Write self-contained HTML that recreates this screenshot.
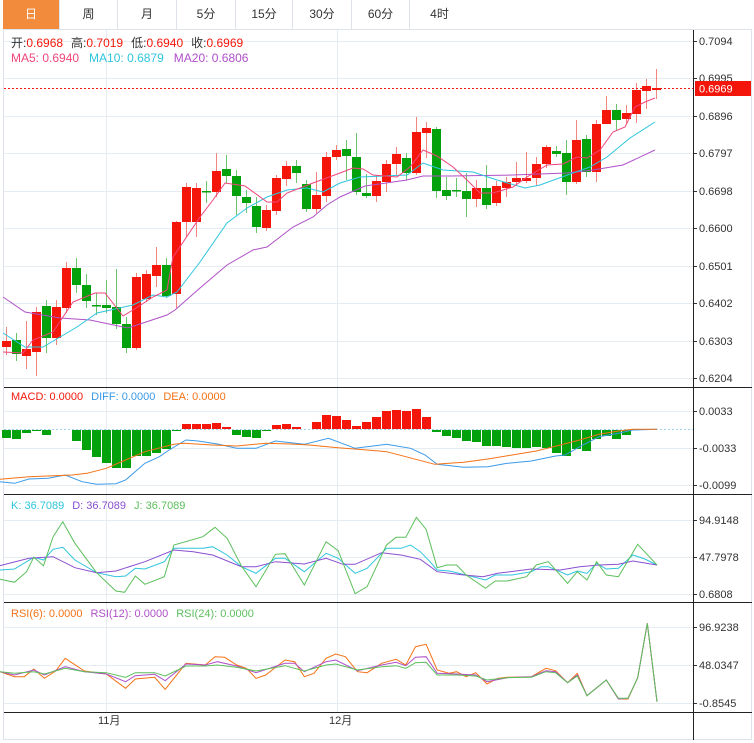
<!DOCTYPE html>
<html><head><meta charset="utf-8"><style>
body{margin:0;background:#fff;font-family:"Liberation Sans","Noto Sans CJK SC",sans-serif;}
#wrap{position:relative;width:754px;height:743px;overflow:hidden;}
.tabs{position:absolute;left:3px;top:0;height:29px;width:749px;border-bottom:1px solid #dde3e8;}
.tab{position:absolute;top:0;height:29px;line-height:29px;text-align:center;font-size:12px;color:#333;border-right:1px solid #dde3e8;box-sizing:border-box;}
.tab.on{background:#f28c3c;color:#fff;}
svg{position:absolute;left:0;top:0;}
</style></head><body><div id="wrap">
<div class="tabs">
<div class="tab on" style="left:0;width:57px">日</div>
<div class="tab" style="left:57px;width:58px">周</div>
<div class="tab" style="left:115px;width:59px">月</div>
<div class="tab" style="left:174px;width:59px">5分</div>
<div class="tab" style="left:233px;width:57px">15分</div>
<div class="tab" style="left:290px;width:59px">30分</div>
<div class="tab" style="left:349px;width:58px">60分</div>
<div class="tab" style="left:407px;width:59px;border-right:none">4时</div>
</div>
<svg id="s" width="754" height="743" xmlns="http://www.w3.org/2000/svg" font-family="Liberation Sans, Noto Sans CJK SC, sans-serif"></svg>
</div>
<script>
var NS="http://www.w3.org/2000/svg",S=document.getElementById('s'),h='';
function ln(x1,y1,x2,y2,c,w,extra){h+='<line x1="'+x1+'" y1="'+y1+'" x2="'+x2+'" y2="'+y2+'" stroke="'+c+'" stroke-width="'+(w||1)+'" '+(extra||'')+'/>';}
function tx(x,y,t,c,s,a){h+='<text x="'+x+'" y="'+y+'" fill="'+c+'" font-size="'+(s||11)+'" '+(a||'')+'>'+t+'</text>';}
function pl(pts,c,sx,sy,ox,oy,w){var p=[];for(var i=0;i<pts.length;i+=2)p.push((ox+pts[i]/sx).toFixed(1)+','+(oy+pts[i+1]/sy).toFixed(1));h+='<polyline points="'+p.join(' ')+'" fill="none" stroke="'+c+'" stroke-width="'+(w||1)+'"/>';}
// borders
ln(3.5,29,3.5,740,'#dde3e8');ln(751.5,29,751.5,740,'#dde3e8');ln(3,739.5,752,739.5,'#dde3e8');
// grids main
var gy=[41,78,116,153,191,228,266,303,341,378],gl=['0.7094','0.6995','0.6896','0.6797','0.6698','0.6600','0.6501','0.6402','0.6303','0.6204'];
for(var i=0;i<gy.length;i++){ln(4,gy[i]+.5,693,gy[i]+.5,'#e6edf2');ln(693,gy[i]+.5,697,gy[i]+.5,'#333');tx(699,gy[i]+4,gl[i],'#333',11);}
// vertical grid
[106,337].forEach(function(x){ln(x+.5,30,x+.5,712,'#e6edf2');});
// MACD grid
[[411,'0.0033'],[448,'-0.0033'],[485,'-0.0099']].forEach(function(a){ln(4,a[0]+.5,693,a[0]+.5,'#e6edf2');ln(693,a[0]+.5,697,a[0]+.5,'#333');tx(699,a[0]+4,a[1],'#333',11);});
[[520,'94.9148'],[557,'47.7978'],[594,'0.6808']].forEach(function(a){ln(4,a[0]+.5,693,a[0]+.5,'#e6edf2');ln(693,a[0]+.5,697,a[0]+.5,'#333');tx(699,a[0]+4,a[1],'#333',11);});
[[627,'96.9238'],[665,'48.0347'],[703,'-0.8545']].forEach(function(a){ln(4,a[0]+.5,693,a[0]+.5,'#e6edf2');ln(693,a[0]+.5,697,a[0]+.5,'#333');tx(699,a[0]+4,a[1],'#333',11);});
// candles [o,c,hi,lo] y px; red if close above
var C=[[347,341,327,355],[340,354,333,361],[356,349,321,369],[352,312,307,376],[306,338,300,353],[338,307,300,345],[308,268,262,313],[268,285,258,293],[285,301,274,308],[305,305,293,315],[305,308,280,313],[307,324,269,329],[324,348,317,353],[348,277,273,350],[299,274,270,302],[276,265,247,287],[265,296,258,298],[294,222,221,308],[222,187,183,237],[222,188,183,237],[191,191,181,203],[192,171,153,197],[169,176,155,183],[176,196,170,215],[197,203,190,213],[206,227,197,233],[228,210,205,231],[211,178,175,215],[179,166,161,186],[166,173,160,183],[184,209,180,212],[209,195,172,213],[196,157,152,202],[157,150,145,160],[149,156,140,180],[157,192,133,195],[193,196,174,198],[196,181,175,202],[182,164,160,192],[164,154,147,175],[158,173,153,180],[173,132,117,175],[133,128,122,158],[129,191,127,198],[190,196,177,200],[190,191,178,197],[191,199,173,217],[199,188,180,207],[188,205,165,209],[203,186,181,206],[188,182,177,197],[182,178,162,185],[181,178,152,183],[178,164,157,186],[164,147,145,168],[151,154,146,157],[153,182,140,195],[182,140,120,184],[139,172,135,177],[172,124,120,182],[124,110,96,124],[110,120,104,130],[119,113,105,124],[114,90,83,123],[91,86,79,109],[90,88,69,99]];
C.forEach(function(c,i){var x=6+10*i,up=c[1]<=c[0]&&!(c[0]==c[1]&&i!=65),col=up?'#f4160b':'#03a10b',wc=up?'#f3847e':'#6cc46f';if(i==20)col='#03a10b',wc='#6cc46f';
ln(x+.5,c[2],x+.5,c[3],wc);var t=Math.min(c[0],c[1]),b=Math.max(c[0],c[1]);h+='<rect x="'+(x-4)+'" y="'+t+'" width="9" height="'+Math.max(b-t,1.5)+'" fill="'+col+'"/>';});
// MAs main
pl([3,297,25,312,60,318,90,320,128,328,143,323,167,315,175,310,200,288,227,265,253,250,267,247,293,227,313,217,327,205,340,197,365,186,407,180,423,176,450,176,513,175,567,173,593,170,623,165,655,150],'#b050c8',1,1,0,0);
pl([3,333,25,347,43,347,55,340,77,327,97,313,133,305,153,295,167,297,177,292,200,262,227,223,247,208,267,197,287,190,307,188,323,192,340,183,360,177,407,175,423,163,443,170,473,172,497,180,525,188,540,185,573,173,590,167,607,157,630,138,655,122],'#2ec5dd',1,1,0,0);
pl([3,352,23,353,33,340,53,332,73,302,95,293,105,293,123,316,133,310,153,297,167,290,173,257,200,217,213,200,225,183,245,186,267,202,277,202,287,193,313,183,340,173,353,168,363,169,373,175,397,177,410,167,423,150,437,156,453,167,467,180,480,193,493,193,513,187,527,177,547,165,563,164,577,157,587,158,600,150,613,132,625,127,635,107,645,102,655,98],'#f0457a',1,1,0,0);
// price line
ln(4,88.5,693,88.5,'#f4160b',1,'stroke-dasharray="2,2"');
h+='<rect x="695" y="81" width="56" height="15" fill="#f4160b"/>';tx(699,92.5,'0.6969','#fff',11);
// legends
h+='<text x="11" y="47" font-size="12"><tspan fill="#333">开:</tspan><tspan fill="#f4160b">0.6968</tspan><tspan fill="#333" dx="8">高:</tspan><tspan fill="#f4160b">0.7019</tspan><tspan fill="#333" dx="8">低:</tspan><tspan fill="#f4160b">0.6940</tspan><tspan fill="#333" dx="8">收:</tspan><tspan fill="#f4160b">0.6969</tspan></text>';
h+='<text x="11" y="62" font-size="12"><tspan fill="#f0457a">MA5: 0.6940</tspan><tspan fill="#2ec5dd" dx="10">MA10: 0.6879</tspan><tspan fill="#b050c8" dx="10">MA20: 0.6806</tspan></text>';
// MACD
ln(4,429.5,693,429.5,'#9fd3ee',1,'stroke-dasharray="2,2"');
var M=[-8,-9,-3,-1,-5,0,0,-11,-20,-27,-33,-38,-38,-26,-26,-23,-19,-1,5,5,5,6,2,-5,-7,-8,-1,4,5,2,0,7,14,13,9,3,7,12,18,19,18,20,12,-2,-6,-8,-11,-12,-16,-16,-17,-18,-18,-17,-18,-23,-26,-19,-21,-9,-6,-9,-5,0,0,0];
M.forEach(function(v,i){if(!v)return;var x=6+10*i-4;if(v>0)h+='<rect x="'+x+'" y="'+(429-v)+'" width="9" height="'+v+'" fill="#f4160b"/>';else h+='<rect x="'+x+'" y="430" width="9" height="'+(-v)+'" fill="#03a10b"/>';});
pl([0,290,30,295,60,282,100,280,135,270,170,290,200,298,240,296,260,285,300,235,330,215,350,195,385,165,410,168,450,177,490,190,530,190,570,168,630,178,680,160,735,190,800,178,850,190,880,210,905,238,960,247,1010,245,1050,235,1100,228,1150,213,1170,210,1200,185,1240,155,1280,145,1310,135,1360,133],'#3a9ae8',2.07,3,0,385);
pl([0,283,60,275,150,270,180,265,220,250,260,225,300,200,360,178,380,175,440,180,490,183,550,175,600,177,640,180,700,188,760,195,800,200,840,215,900,238,960,232,1010,222,1060,210,1110,198,1160,180,1200,165,1240,148,1280,138,1310,133,1360,133],'#f47216',2.07,3,0,385);
h+='<text x="11" y="400" font-size="11"><tspan fill="#f4160b">MACD: 0.0000</tspan><tspan fill="#3a9ae8" dx="8">DIFF: 0.0000</tspan><tspan fill="#f47216" dx="8">DEA: 0.0000</tspan></text>';
// KDJ
pl([0,225,30,222,70,187,90,195,110,163,130,157,155,195,200,233,240,245,260,243,280,220,300,222,340,200,360,160,420,160,440,155,470,180,500,215,530,235,570,190,590,190,630,230,675,175,700,190,735,235,760,220,800,160,830,160,850,150,870,170,890,200,905,225,930,228,965,240,1005,255,1025,240,1060,240,1100,230,1120,215,1135,215,1175,240,1195,228,1215,235,1235,205,1255,222,1280,220,1310,180,1335,192,1360,210],'#2ec5dd',2.07,3,0,495);
pl([0,212,60,190,110,185,155,218,200,233,240,228,300,200,360,165,400,170,440,180,500,215,530,215,570,200,630,207,675,190,710,208,735,208,790,173,830,180,870,193,905,230,960,240,1000,245,1030,235,1100,222,1160,225,1200,215,1240,210,1280,208,1310,198,1360,210],'#8a4fd0',2.07,3,0,495);
pl([0,253,30,262,55,230,70,187,90,212,110,125,130,80,155,145,200,233,240,288,258,292,280,243,300,268,340,245,360,150,420,125,445,97,470,130,500,213,530,275,570,178,590,176,630,270,675,140,700,167,735,296,760,275,800,150,820,127,840,127,862,67,882,103,905,218,925,210,945,210,965,240,1005,280,1025,258,1050,258,1090,245,1110,210,1135,200,1175,265,1195,230,1215,255,1235,200,1255,240,1280,245,1320,148,1360,210],'#5cbf5c',2.07,3,0,495);
h+='<text x="11" y="509" font-size="11"><tspan fill="#2ec5dd">K: 36.7089</tspan><tspan fill="#8a4fd0" dx="8">D: 36.7089</tspan><tspan fill="#5cbf5c" dx="8">J: 36.7089</tspan></text>';
// RSI
pl([0,215,30,230,50,230,70,207,92,235,115,213,135,175,175,213,220,222,260,265,280,237,320,232,342,268,385,190,425,195,445,170,465,172,490,195,510,205,530,235,550,225,590,180,610,185,630,230,650,220,675,175,695,162,715,170,740,215,760,218,790,190,820,178,840,195,860,140,882,133,905,210,930,220,945,215,965,230,985,218,1008,252,1030,235,1050,232,1100,230,1130,205,1150,212,1175,248,1195,220,1215,287,1255,240,1280,297,1300,297,1320,233,1340,70,1360,305],'#f47216',2.07,3,0,600);
pl([0,215,30,225,70,210,92,225,135,200,175,215,220,222,260,245,280,227,320,223,342,242,385,192,425,195,450,185,490,198,530,218,590,190,610,190,630,215,675,185,695,180,740,212,790,195,820,187,840,197,860,172,882,170,905,220,945,222,985,225,1008,245,1050,233,1100,230,1130,212,1150,215,1175,248,1195,225,1215,287,1255,240,1280,297,1300,295,1320,233,1340,70,1360,305],'#b050c8',2.07,3,0,600);
pl([0,215,30,220,70,215,92,222,135,205,175,215,220,218,260,232,280,218,320,218,342,228,385,198,425,198,450,195,490,202,530,213,590,197,630,213,675,195,695,192,740,210,790,200,820,197,840,205,860,188,882,187,905,225,945,225,985,228,1008,240,1050,233,1100,232,1130,215,1150,218,1175,248,1195,228,1215,287,1255,240,1280,295,1300,295,1320,233,1340,70,1360,305],'#5cbf5c',2.07,3,0,600);
h+='<text x="11" y="617" font-size="11"><tspan fill="#f47216">RSI(6): 0.0000</tspan><tspan fill="#b050c8" dx="8">RSI(12): 0.0000</tspan><tspan fill="#5cbf5c" dx="8">RSI(24): 0.0000</tspan></text>';
// separators & axis
[387,494,602,712].forEach(function(y){ln(4,y+.5,752,y+.5,'#222');});
ln(693.5,30,693.5,740,'#222');
tx(98,724,'11月','#333',11);tx(329,724,'12月','#333',11);
S.innerHTML=h;
</script>
</body></html>
